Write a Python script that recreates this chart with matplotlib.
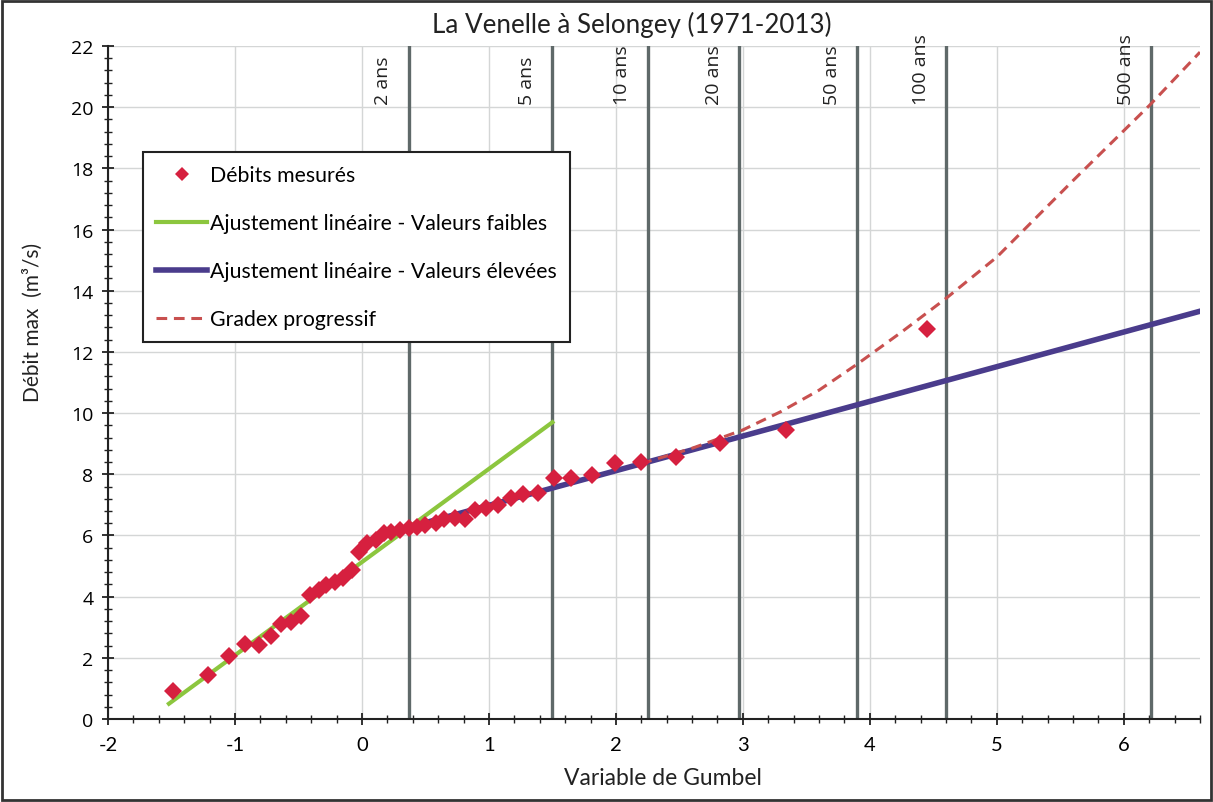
import matplotlib
matplotlib.use("Agg")
import matplotlib.pyplot as plt
from matplotlib.patches import Rectangle
from matplotlib.ticker import MultipleLocator

plt.rcParams['font.family'] = ['Lato', 'DejaVu Sans']
plt.rcParams['axes.unicode_minus'] = False

# variable de Gumbel des 43 crues annuelles (1971-2013) et débits max
gumbel_u = [-1.49, -1.21, -1.05, -0.92, -0.81, -0.72, -0.64, -0.56, -0.48, -0.41,
            -0.34, -0.28, -0.21, -0.15, -0.08, -0.02, 0.04, 0.11, 0.17, 0.23,
            0.30, 0.37, 0.43, 0.50, 0.58, 0.65, 0.73, 0.81, 0.89, 0.98,
            1.07, 1.17, 1.27, 1.39, 1.51, 1.65, 1.81, 1.99, 2.20, 2.47,
            2.82, 3.34, 4.45]
debits = [0.90, 1.43, 2.07, 2.44, 2.42, 2.70, 3.10, 3.16, 3.36, 4.05,
          4.22, 4.38, 4.48, 4.60, 4.88, 5.47, 5.74, 5.85, 6.07, 6.10,
          6.19, 6.26, 6.29, 6.34, 6.42, 6.55, 6.58, 6.54, 6.84, 6.89,
          7.01, 7.24, 7.35, 7.40, 7.89, 7.88, 7.98, 8.37, 8.41, 8.55,
          9.03, 9.44, 12.75]

# ajustements linéaires
faibles_u = [-1.52, 1.50]
faibles_q = [0.50, 9.70]
eleves_u = [0.37, 6.60]
eleves_q = [6.27, 13.33]

# gradex progressif
gradex_u = [2.2, 2.6, 3.0, 3.3, 3.6, 3.9, 4.25, 4.6, 5.0, 5.6, 6.2, 6.6]
gradex_q = [8.35, 8.85, 9.45, 10.05, 10.75, 11.6, 12.65, 13.75, 15.1, 17.6, 20.05, 21.8]

# périodes de retour
periodes = ['2 ans', '5 ans', '10 ans', '20 ans', '50 ans', '100 ans', '500 ans']
periodes_u = [0.367, 1.500, 2.250, 2.970, 3.902, 4.600, 6.214]

fig = plt.figure(figsize=(12.13, 8.03), dpi=100)
ax = fig.add_axes([108/1213, 1 - 720/803, 1092/1213, 673/803])

ax.set_xlim(-2, 6.6)
ax.set_ylim(0, 22)
ax.xaxis.set_major_locator(MultipleLocator(1))
ax.xaxis.set_minor_locator(MultipleLocator(0.2))
ax.yaxis.set_major_locator(MultipleLocator(2))
ax.yaxis.set_minor_locator(MultipleLocator(0.4))
ax.grid(True, which='major', color='#d4d6d6', lw=1)
ax.set_axisbelow(True)
for s in ['top', 'right']:
    ax.spines[s].set_visible(False)
for s in ['left', 'bottom']:
    ax.spines[s].set_linewidth(1.5)
    ax.spines[s].set_color('#222222')
ax.tick_params(which='major', direction='inout', length=9, width=1.3, color='#222222')
ax.tick_params(which='minor', direction='inout', length=6, width=1.0, color='#222222')
ax.tick_params(axis='x', labelsize=14.5, pad=8)
ax.tick_params(axis='y', labelsize=14, pad=6)
for lab in ax.get_yticklabels():
    lab.set_family(['Open Sans', 'DejaVu Sans'])

for name, u in zip(periodes, periodes_u):
    ax.axvline(u, color='#5f6969', lw=2.4, zorder=1.5)
    ax.text(u - 0.2, 20.1, name, rotation=90, ha='center', va='bottom',
            fontsize=14, color='#222222', family=['Open Sans', 'DejaVu Sans'])

ax.plot(faibles_u, faibles_q, color='#8cc63e', lw=3, zorder=3,
        label='Ajustement linéaire - Valeurs faibles')
ax.plot(eleves_u, eleves_q, color='#4a3c8c', lw=4, zorder=3,
        label='Ajustement linéaire - Valeurs élevées')
ax.plot(gradex_u, gradex_q, color='#c8504f', lw=2.2, ls=(0, (3.5, 2.2)), zorder=3,
        label='Gradex progressif')
ax.plot(gumbel_u, debits, ls='none', marker='D', ms=9, color='#d6203f',
        markeredgewidth=0, zorder=4, label='Débits mesurés')

h, l = ax.get_legend_handles_labels()
order = [3, 0, 1, 2]
leg = ax.legend([h[i] for i in order], [l[i] for i in order],
                loc='upper left', bbox_to_anchor=(0.032, 0.8425),
                borderaxespad=0, fancybox=False, fontsize=15.3,
                handlelength=2.4, handletextpad=0.12, labelspacing=1.32,
                borderpad=0.62, framealpha=1, edgecolor='#222222', markerscale=0.75)
leg.get_frame().set_linewidth(1.5)

fig.text(632/1213, 1 - 25/803, 'La Venelle à Selongey (1971-2013)',
         ha='center', va='center', fontsize=18.7, color='#222222')
fig.text(33/1213, 1 - 322/803, 'Débit max  (m³/s)', rotation=90,
         ha='center', va='center', fontsize=15, color='#222222')
fig.text(663/1213, 1 - 779/803, 'Variable de Gumbel',
         ha='center', va='center', fontsize=16.5, color='#222222')

fig.patches.append(Rectangle((0.002, 0.003), 0.996, 0.994, transform=fig.transFigure,
                             fill=False, lw=2, edgecolor='#333333'))

fig.savefig('out.png', dpi=100)
